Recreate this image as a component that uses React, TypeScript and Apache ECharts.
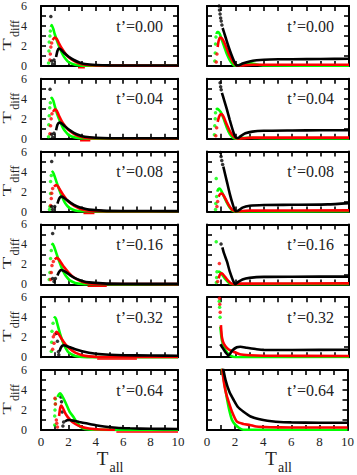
import React, { useEffect, useRef } from "react";
import * as echarts from "echarts";

// ---------- labels ----------
const ROW_LABELS = ["t’=0.00", "t’=0.04", "t’=0.08", "t’=0.16", "t’=0.32", "t’=0.64"];
const X_TICK_LABELS = [0, 2, 4, 6, 8, 10];
const Y_TICK_LABELS = [0, 2, 4, 6];

// ---------- left column data (dots = sparse points, main = curve, under = below-axis) ----------
const L0_gd = [[0.55, 0.3], [0.58, 1.5], [0.6, 2.4], [0.65, 3.0], [0.68, 3.5]];
const L0_g = [[0.72, 3.9], [0.78, 4.1], [0.9, 3.7], [1.0, 3.2], [1.2, 2.4], [1.4, 1.7], [1.6, 1.1], [1.8, 0.7], [2.0, 0.4], [2.5, 0.12], [3.0, 0.04], [4, 0.02], [10, 0.02]];
const L0_rd = [[0.65, 0.6], [0.68, 1.2], [0.72, 1.9], [0.78, 2.3]];
const L0_r = [[0.85, 2.6], [1.0, 2.85], [1.15, 2.7], [1.3, 2.3], [1.5, 1.8], [1.8, 1.2], [2.0, 0.9], [2.4, 0.5], [2.8, 0.25], [3.2, 0.12], [4, 0.05], [10, 0.03]];
const L0_ru = [[2.7, -0.18], [3.2, -0.18]];
const L0_kd = [[0.72, 4.95], [0.78, 0.5], [0.85, 0.2], [0.95, 0.6]];
const L0_k = [[1.1, 0.9], [1.2, 1.5], [1.3, 1.75], [1.45, 1.65], [1.7, 1.3], [2.0, 0.95], [2.4, 0.6], [2.8, 0.35], [3.2, 0.2], [4, 0.1], [5, 0.06], [10, 0.05]];

const L1_gd = [[0.55, 0.2], [0.57, 1.4], [0.6, 2.3], [0.64, 3.1], [0.68, 3.6]];
const L1_g = [[0.72, 4.0], [0.78, 4.1], [0.9, 3.8], [1.0, 3.3], [1.2, 2.4], [1.4, 1.7], [1.6, 1.1], [1.8, 0.7], [2.0, 0.4], [2.5, 0.12], [3.0, 0.04], [4, 0.02], [10, 0.02]];
const L1_rd = [[0.65, 0.5], [0.7, 1.3], [0.74, 2.0], [0.8, 2.5]];
const L1_r = [[0.88, 2.7], [1.02, 2.95], [1.15, 2.8], [1.3, 2.35], [1.5, 1.8], [1.8, 1.2], [2.0, 0.9], [2.4, 0.5], [2.8, 0.25], [3.2, 0.12], [4, 0.05], [10, 0.03]];
const L1_ru = [[2.85, -0.18], [3.6, -0.18]];
const L1_kd = [[0.66, 4.95], [0.78, 0.45], [0.85, 0.15], [0.95, 0.55]];
const L1_k = [[1.1, 0.85], [1.2, 1.4], [1.34, 1.62], [1.5, 1.55], [1.7, 1.3], [2.0, 0.95], [2.4, 0.6], [2.8, 0.35], [3.2, 0.2], [4, 0.1], [5, 0.06], [10, 0.05]];

const L2_gd = [[0.62, 0.2], [0.65, 0.5], [0.7, 1.8], [0.7, 3.0], [0.75, 3.6]];
const L2_g = [[0.8, 3.9], [0.85, 4.0], [0.95, 3.7], [1.1, 3.1], [1.3, 2.3], [1.5, 1.6], [1.7, 1.0], [1.9, 0.6], [2.1, 0.35], [2.5, 0.12], [3.0, 0.04], [4, 0.02], [10, 0.02]];
const L2_rd = [[0.7, 0.6], [0.75, 1.3], [0.78, 1.83], [0.85, 2.3]];
const L2_r = [[0.95, 2.5], [1.1, 2.66], [1.25, 2.5], [1.4, 2.15], [1.6, 1.7], [1.9, 1.15], [2.2, 0.8], [2.6, 0.45], [3.0, 0.22], [3.5, 0.1], [4.5, 0.05], [10, 0.03]];
const L2_ru = [[3.1, -0.18], [3.9, -0.18]];
const L2_kd = [[0.78, 5.0], [0.78, 0.5], [0.85, 0.2], [1.0, 0.5]];
const L2_k = [[1.2, 0.8], [1.3, 1.2], [1.4, 1.45], [1.5, 1.5], [1.65, 1.4], [1.9, 1.15], [2.2, 0.85], [2.6, 0.55], [3.0, 0.35], [3.5, 0.2], [4.5, 0.1], [6, 0.06], [10, 0.05]];

const L3_gd = [[0.6, 0.5], [0.65, 1.2], [0.7, 2.6], [0.75, 3.4]];
const L3_g = [[0.8, 3.9], [0.85, 4.05], [0.95, 3.8], [1.1, 3.2], [1.3, 2.4], [1.5, 1.7], [1.7, 1.1], [1.9, 0.7], [2.1, 0.4], [2.5, 0.15], [3.0, 0.05], [4, 0.02], [10, 0.02]];
const L3_rd = [[0.7, 0.5], [0.75, 1.2], [0.8, 1.9], [0.9, 2.3]];
const L3_r = [[1.0, 2.5], [1.15, 2.65], [1.3, 2.5], [1.5, 2.1], [1.7, 1.7], [2.0, 1.2], [2.3, 0.8], [2.7, 0.45], [3.1, 0.22], [3.5, 0.1], [4.5, 0.05], [10, 0.03]];
const L3_ru = [[3.4, -0.18], [4.8, -0.18]];
const L3_kd = [[0.85, 5.1], [0.85, 0.6], [0.95, 0.3], [1.05, 0.6]];
const L3_k = [[1.2, 0.9], [1.3, 1.2], [1.4, 1.4], [1.5, 1.44], [1.65, 1.35], [1.9, 1.15], [2.2, 0.85], [2.6, 0.55], [3.0, 0.35], [3.5, 0.2], [4.5, 0.1], [6, 0.06], [10, 0.05]];

const L4_gd = [[0.75, 0.6], [0.78, 1.5], [0.8, 2.6], [0.88, 3.4]];
const L4_g = [[0.95, 3.9], [1.02, 4.0], [1.1, 3.8], [1.2, 3.3], [1.4, 2.3], [1.6, 1.5], [1.8, 0.9], [2.0, 0.5], [2.5, 0.12], [3.0, 0.03], [4, 0.01], [10, 0.01]];
const L4_rd = [[0.85, 0.8], [0.9, 2.05], [0.95, 1.4], [1.0, 2.3]];
const L4_r = [[1.05, 2.4], [1.14, 2.55], [1.3, 2.3], [1.5, 1.85], [1.8, 1.25], [2.1, 0.85], [2.5, 0.45], [3.0, 0.2], [3.5, 0.08], [4, 0.03], [10, 0.02]];
const L4_ru = [[4.1, -0.18], [7.0, -0.18]];
const L4_kd = [[1.15, 2.4], [1.2, 1.6], [1.27, 0.55], [1.3, 0.25]];
const L4_k = [[1.35, 0.6], [1.45, 0.95], [1.55, 1.15], [1.65, 1.2], [1.8, 1.15], [2.0, 1.05], [2.5, 0.8], [3.0, 0.6], [3.5, 0.45], [4, 0.35], [5, 0.25], [6, 0.2], [8, 0.17], [10, 0.15]];

const L5_gd = [[1.0, 0.5], [1.0, 1.4], [1.02, 2.0], [1.05, 2.6], [1.05, 3.1]];
const L5_g = [[1.2, 3.3], [1.3, 3.55], [1.39, 3.67], [1.5, 3.5], [1.7, 3.0], [1.9, 2.4], [2.1, 1.8], [2.36, 1.33], [2.6, 0.8], [2.85, 0.35], [3.2, 0.1], [4, 0.02], [10, 0.01]];
const L5_rd = [[1.02, 3.17], [1.05, 2.6], [1.12, 1.0], [1.15, 0.67], [1.2, 0.3]];
const L5_r = [[1.32, 1.4], [1.4, 2.2], [1.48, 2.45], [1.6, 2.2], [1.8, 1.6], [2.1, 1.05], [2.5, 0.6], [3.0, 0.3], [3.5, 0.15], [4.3, 0.05], [5.4, 0.03]];
const L5_ru = [[5.5, -0.2], [10, -0.2]];
const L5_kd = [[1.45, 3.3], [1.5, 2.83], [1.55, 1.8], [1.6, 0.4], [1.65, 0.8]];
const L5_k = [[1.75, 0.85], [1.9, 0.97], [2.1, 1.0], [2.4, 0.92], [2.8, 0.8], [3.3, 0.67], [4, 0.48], [4.6, 0.35], [5.5, 0.23], [6.5, 0.17], [8, 0.12], [10, 0.1]];

// ---------- right column data ----------
const R0_gd = [[0.55, 0.5], [0.58, 1.3], [0.6, 2.2], [0.63, 2.9]];
const R0_g = [[0.66, 3.2], [0.72, 3.4], [0.8, 3.4], [0.9, 3.2], [1.0, 2.8], [1.2, 2.0], [1.4, 1.2], [1.6, 0.6], [1.8, 0.2], [2.0, 0.02], [2.3, 0.1], [2.7, 0.25], [3.1, 0.27], [3.5, 0.15], [4, 0.05], [10, 0.03]];
const R0_rd = [[0.65, 0.4], [0.7, 1.2]];
const R0_r = [[0.75, 1.9], [0.82, 2.5], [0.92, 2.85], [1.03, 2.8], [1.2, 2.4], [1.4, 1.7], [1.6, 1.0], [1.8, 0.5], [2.0, 0.12], [2.15, 0.02], [2.5, 0.05], [3.2, 0.12], [10, 0.12]];
const R0_kd = [[0.85, 6.0], [0.88, 5.6], [0.92, 5.2], [0.96, 4.8], [1.0, 4.5], [1.05, 4.1]];
const R0_k = [[1.1, 3.8], [1.3, 2.9], [1.5, 2.0], [1.7, 1.2], [1.9, 0.5], [2.05, 0.1], [2.2, 0.05], [2.5, 0.25], [3.0, 0.45], [3.5, 0.57], [4, 0.63], [5, 0.67], [6, 0.68], [8, 0.7], [10, 0.72]];

const R1_gd = [[0.52, 0.4], [0.55, 1.3], [0.58, 2.0], [0.6, 2.6]];
const R1_g = [[0.64, 2.9], [0.72, 3.0], [0.8, 2.95], [1.0, 2.6], [1.2, 1.9], [1.4, 1.1], [1.6, 0.5], [1.8, 0.15], [2.0, 0.02], [2.5, 0.08], [3, 0.1], [4, 0.05], [10, 0.03]];
const R1_rd = [[0.62, 0.3], [0.68, 1.1]];
const R1_r = [[0.75, 1.7], [0.85, 2.2], [0.95, 2.45], [1.05, 2.45], [1.2, 2.1], [1.4, 1.4], [1.6, 0.8], [1.8, 0.35], [2.0, 0.08], [2.2, 0.02], [2.6, 0.05], [3.2, 0.12], [10, 0.12]];
const R1_kd = [[0.92, 5.6], [0.96, 5.2], [1.0, 4.9]];
const R1_k = [[1.05, 4.6], [1.2, 3.9], [1.4, 2.95], [1.6, 1.9], [1.87, 0.62], [2.05, 0.1], [2.2, 0.08], [2.4, 0.3], [2.7, 0.55], [3.2, 0.72], [4, 0.8], [6, 0.83], [8, 0.85], [10, 0.85]];

const R2_gd = [[0.6, 0.2], [0.62, 0.8], [0.65, 3.3], [0.68, 1.5]];
const R2_g = [[0.72, 2.0], [0.8, 2.25], [0.9, 2.3], [1.0, 2.1], [1.2, 1.5], [1.4, 0.9], [1.6, 0.4], [1.8, 0.1], [2.0, 0.02], [10, 0.03]];
const R2_rd = [[0.7, 0.5], [0.75, 1.0]];
const R2_r = [[0.82, 1.5], [0.92, 1.75], [1.05, 1.8], [1.2, 1.55], [1.4, 1.0], [1.6, 0.5], [1.8, 0.15], [2.0, 0.03], [3, 0.1], [10, 0.12]];
const R2_kd = [[0.95, 5.9], [0.99, 5.5], [1.04, 5.1], [1.1, 4.7]];
const R2_k = [[1.15, 4.5], [1.4, 3.0], [1.6, 1.8], [1.8, 0.8], [2.0, 0.05], [2.2, 0.1], [2.5, 0.4], [3, 0.58], [4, 0.66], [6, 0.68], [8.5, 0.72], [10, 0.85]];

const R3_gd = [[0.65, 4.27], [0.66, 0.2], [0.68, 0.7], [0.7, 1.27]];
const R3_g = [[0.78, 1.3], [0.88, 1.25], [1.0, 1.1], [1.2, 0.7], [1.4, 0.35], [1.6, 0.1], [1.8, 0.02], [10, 0.03]];
const R3_rd = [[0.87, 2.1], [0.75, 0.3]];
const R3_r = [[0.82, 0.6], [0.9, 0.95], [1.0, 1.1], [1.1, 1.05], [1.3, 0.7], [1.5, 0.35], [1.7, 0.1], [1.9, 0.02], [2.3, 0.08], [10, 0.1]];
const R3_kd = [[0.99, 4.04]];
const R3_k = [[1.08, 3.7], [1.2, 3.1], [1.41, 2.27], [1.6, 1.3], [1.87, 0.27], [2.0, 0.02], [2.2, 0.25], [2.5, 0.5], [3, 0.65], [4, 0.75], [6, 0.77], [10, 0.78]];

const R4_gd = [[0.86, 5.6], [0.89, 5.0], [0.92, 4.0]];
const R4_g = [[0.94, 3.05], [1.0, 2.2], [1.05, 1.7], [1.2, 1.0], [1.4, 0.5], [1.64, 0.15], [2.0, 0.0], [10, 0.02]];
const R4_rd = [[0.88, 5.9], [0.9, 5.3], [0.93, 4.5]];
const R4_r = [[0.98, 3.2], [1.05, 2.0], [1.2, 1.3], [1.5, 0.8], [1.87, 0.55], [2.3, 0.3], [3, 0.2], [4, 0.15], [10, 0.12]];
const R4_k = [[0.94, 1.3], [1.05, 1.05], [1.3, 0.5], [1.52, 0.2], [1.8, 0.7], [2.1, 1.0], [2.35, 1.05], [2.8, 0.95], [3.5, 0.8], [4, 0.73], [6, 0.72], [10, 0.75]];

const R5_g = [[1.0, 6.5], [1.2, 5.0], [1.32, 4.0], [1.44, 3.0], [1.6, 1.9], [1.78, 1.0], [2.0, 0.55], [2.3, 0.2], [2.6, 0.02], [10, 0.02]];
const R5_r = [[1.05, 6.5], [1.2, 4.8], [1.35, 3.7], [1.5, 3.0], [1.78, 1.83], [2.13, 0.83], [2.6, 0.6], [3.05, 0.5], [3.5, 0.35], [4.5, 0.28], [6, 0.25], [10, 0.25]];
const R5_k = [[1.1, 6.5], [1.32, 5.0], [1.6, 3.8], [1.9, 3.0], [2.2, 2.3], [2.6, 1.83], [3.1, 1.35], [3.75, 1.07], [4.3, 0.92], [4.9, 0.83], [6, 0.76], [8, 0.73], [10, 0.73]];

type Panel = {
  g: number[][]; gd?: number[][];
  r: number[][]; rd?: number[][]; ru?: number[][];
  k: number[][]; kd?: number[][];
};

const LEFT: Panel[] = [
  { g: L0_g, gd: L0_gd, r: L0_r, rd: L0_rd, ru: L0_ru, k: L0_k, kd: L0_kd },
  { g: L1_g, gd: L1_gd, r: L1_r, rd: L1_rd, ru: L1_ru, k: L1_k, kd: L1_kd },
  { g: L2_g, gd: L2_gd, r: L2_r, rd: L2_rd, ru: L2_ru, k: L2_k, kd: L2_kd },
  { g: L3_g, gd: L3_gd, r: L3_r, rd: L3_rd, ru: L3_ru, k: L3_k, kd: L3_kd },
  { g: L4_g, gd: L4_gd, r: L4_r, rd: L4_rd, ru: L4_ru, k: L4_k, kd: L4_kd },
  { g: L5_g, gd: L5_gd, r: L5_r, rd: L5_rd, ru: L5_ru, k: L5_k, kd: L5_kd },
];
const RIGHT: Panel[] = [
  { g: R0_g, gd: R0_gd, r: R0_r, rd: R0_rd, k: R0_k, kd: R0_kd },
  { g: R1_g, gd: R1_gd, r: R1_r, rd: R1_rd, k: R1_k, kd: R1_kd },
  { g: R2_g, gd: R2_gd, r: R2_r, rd: R2_rd, k: R2_k, kd: R2_kd },
  { g: R3_g, gd: R3_gd, r: R3_r, rd: R3_rd, k: R3_k, kd: R3_kd },
  { g: R4_g, gd: R4_gd, r: R4_r, rd: R4_rd, k: R4_k },
  { g: R5_g, r: R5_r, k: R5_k },
];

// ---------- layout ----------
const COL_LEFT = [41, 207];
const COL_W = [137, 142];
const ROW_TOP0 = 6;
const ROW_STEP = 72.8;
const ROW_H = 60;
const SERIF = "Liberation Serif";
const GREEN = "#00ff00";
const RED = "#ff0000";
const BLACK = "#000000";

function buildOption() {
  const grids: any[] = [];
  const xAxes: any[] = [];
  const yAxes: any[] = [];
  const series: any[] = [];
  const graphics: any[] = [];

  const isInt = (v: number) => Math.abs(v - Math.round(v)) < 1e-6;
  const xFmt = (v: number) => (isInt(v) && X_TICK_LABELS.includes(Math.round(v)) ? String(Math.round(v)) : "");
  const yFmt = (v: number) => (isInt(v) && Y_TICK_LABELS.includes(Math.round(v)) ? String(Math.round(v)) : "");

  for (let row = 0; row < 6; row++) {
    for (let col = 0; col < 2; col++) {
      const gi = grids.length;
      const top = ROW_TOP0 + row * ROW_STEP;
      grids.push({ left: COL_LEFT[col], top, width: COL_W[col], height: ROW_H, containLabel: false });
      const axisLine = { show: true, onZero: false, lineStyle: { color: BLACK, width: 2 } };
      const axisTick = { show: true, inside: true, length: 5, lineStyle: { color: BLACK, width: 1.6 } };
      const xBase = { type: "value", gridIndex: gi, min: 0, max: 10, interval: 1, axisLine, axisTick, splitLine: { show: false } };
      const yBase = { type: "value", gridIndex: gi, min: 0, max: 6, interval: 1, axisLine, axisTick, splitLine: { show: false } };
      xAxes.push({
        ...xBase, position: "bottom",
        axisLabel: { show: row === 5, formatter: xFmt, fontFamily: SERIF, fontSize: 13, color: "#222", margin: 5 },
      });
      xAxes.push({ ...xBase, position: "top", axisLabel: { show: false } });
      yAxes.push({
        ...yBase, position: "left",
        axisLabel: { show: col === 0, formatter: yFmt, fontFamily: SERIF, fontSize: 12, color: "#222", margin: 14 },
      });
      yAxes.push({ ...yBase, position: "right", axisLabel: { show: false } });

      const p = col === 0 ? LEFT[row] : RIGHT[row];
      const ax = gi * 2;
      const clip = col === 1;
      const line = (data: number[][], color: string, w = 2.6) => ({
        type: "line", xAxisIndex: ax, yAxisIndex: ax, data, showSymbol: false, symbol: "none",
        lineStyle: { color, width: w }, clip, silent: true, smooth: 0.2,
      });
      const dots = (data: number[][], color: string) => ({
        type: "scatter", xAxisIndex: ax, yAxisIndex: ax, data, symbol: "circle", symbolSize: 3.5,
        itemStyle: { color }, clip, silent: true,
      });
      if (p.gd) series.push(dots(p.gd, GREEN));
      series.push(line(p.g, GREEN));
      if (p.rd) series.push(dots(p.rd, RED));
      series.push(line(p.r, RED));
      if (p.ru) series.push({ ...line(p.ru, RED, 1.6), smooth: false });
      if (p.kd) series.push(dots(p.kd, BLACK));
      series.push(line(p.k, BLACK));

      graphics.push({
        type: "text", x: COL_LEFT[col] + COL_W[col] - 15, y: top + 20, silent: true,
        style: { text: ROW_LABELS[row], fontFamily: SERIF, fontSize: 16, fill: "#222", textAlign: "right", textVerticalAlign: "middle" },
      });
      if (col === 0) {
        graphics.push({
          type: "text", x: 7, y: top + 38.5, rotation: Math.PI / 2, scaleY: 0.6, silent: true,
          style: { text: "T", fontFamily: SERIF, fontSize: 20, fill: "#222", textAlign: "center", textVerticalAlign: "middle" },
        });
        graphics.push({
          type: "text", x: 15, y: top + 22.5, rotation: Math.PI / 2, silent: true,
          style: { text: "diff", fontFamily: SERIF, fontSize: 12, fill: "#222", textAlign: "center", textVerticalAlign: "middle" },
        });
      }
      if (row === 5) {
        const cx = COL_LEFT[col] + COL_W[col] / 2;
        graphics.push({
          type: "text", x: cx - 7, y: 458.5, silent: true,
          style: { text: "T", fontFamily: SERIF, fontSize: 19, fill: "#222", textAlign: "center", textVerticalAlign: "middle" },
        });
        graphics.push({
          type: "text", x: cx + 7, y: 467.5, silent: true,
          style: { text: "all", fontFamily: SERIF, fontSize: 14, fill: "#222", textAlign: "center", textVerticalAlign: "middle" },
        });
      }
    }
  }

  return {
    animation: false,
    backgroundColor: "#ffffff",
    grid: grids,
    xAxis: xAxes,
    yAxis: yAxes,
    series,
    graphic: { elements: graphics },
  };
}

export default function App() {
  const ref = useRef<HTMLDivElement>(null);
  useEffect(() => {
    if (!ref.current) return;
    const chart = echarts.init(ref.current, undefined, { renderer: "svg" });
    chart.setOption(buildOption() as any);
    return () => chart.dispose();
  }, []);
  return (
    <div
      ref={ref}
      style={{ position: "fixed", left: 0, top: 0, width: 357, height: 475, background: "#fff" }}
    />
  );
}
